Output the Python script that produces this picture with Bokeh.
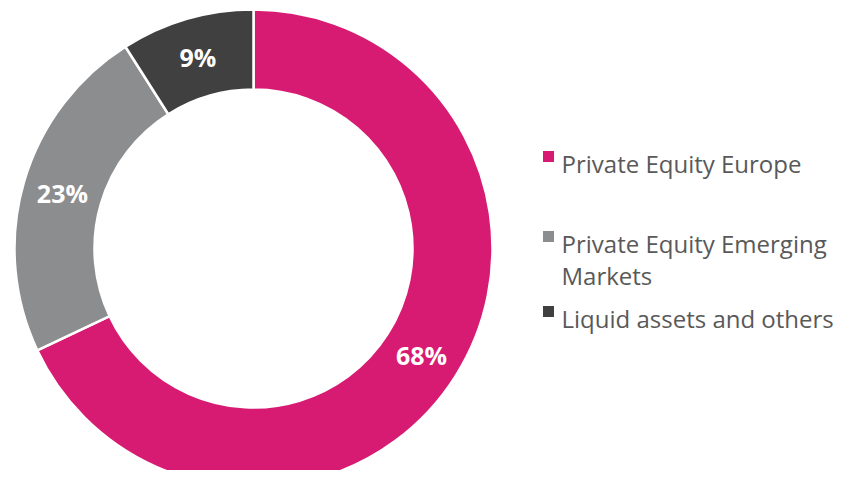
from math import pi, cos, sin
from bokeh.plotting import figure
from bokeh.models import Range1d, ColumnDataSource
from bokeh.core.properties import value
from bokeh.embed import file_html
from bokeh.resources import INLINE

categories = ["Private Equity Europe", "Private Equity Emerging Markets", "Liquid assets and others"]
shares = [68, 23, 9]
legend_labels = ["Private Equity Europe", "Private Equity Emerging\nMarkets", "Liquid assets and others"]
colors = ["#D81B72", "#8C8D8F", "#404040"]

W, H = 840, 470
p = figure(width=W, height=H, output_backend="svg", toolbar_location=None,
           x_range=Range1d(0, W), y_range=Range1d(0, H), min_border=0)
p.axis.visible = False
p.grid.visible = False
p.outline_line_color = None
p.background_fill_color = "white"

def sy(y):
    return H - y

cx, cy = 253, sy(248)
total = float(sum(shares))
starts, ends, lx, ly, txt = [], [], [], [], []
a = pi / 2
for v in shares:
    e = a - v / total * 2 * pi
    starts.append(e)
    ends.append(a)
    mid = (a + e) / 2
    lx.append(cx + 199 * cos(mid))
    ly.append(cy + 199 * sin(mid))
    txt.append(f"{v}%")
    a = e

src = ColumnDataSource(dict(start=starts, end=ends, color=colors, lx=lx, ly=ly, txt=txt))
p.annular_wedge(x=cx, y=cy, inner_radius=159, outer_radius=239, start_angle="start", end_angle="end",
                fill_color="color", line_color="white", line_width=2.5, source=src)
p.text(x="lx", y="ly", text="txt", source=src, text_color="white", text_font=value("Open Sans"),
       text_font_size="25px", text_font_style="bold", text_align="center", text_baseline="middle")

# legend
leg_base = [163, 243, 318]
line_gap = 32
sq_x, sq_y = [], []
tx, ty, tt = [], [], []
for lab, b in zip(legend_labels, leg_base):
    sq_x.append(548)
    sq_y.append(sy(b - 7))
    for i, line in enumerate(lab.split("\n")):
        tx.append(561)
        ty.append(sy(b + i * line_gap))
        tt.append(line)
p.rect(x=sq_x, y=sq_y, width=11, height=11, fill_color=colors, line_color=None)
p.text(x=tx, y=ty, text=tt, text_color="#595959",
       text_font=value("Open Sans"), text_font_size="24px", text_align="left", text_baseline="alphabetic")

open("out.html", "w").write(file_html(p, INLINE))
